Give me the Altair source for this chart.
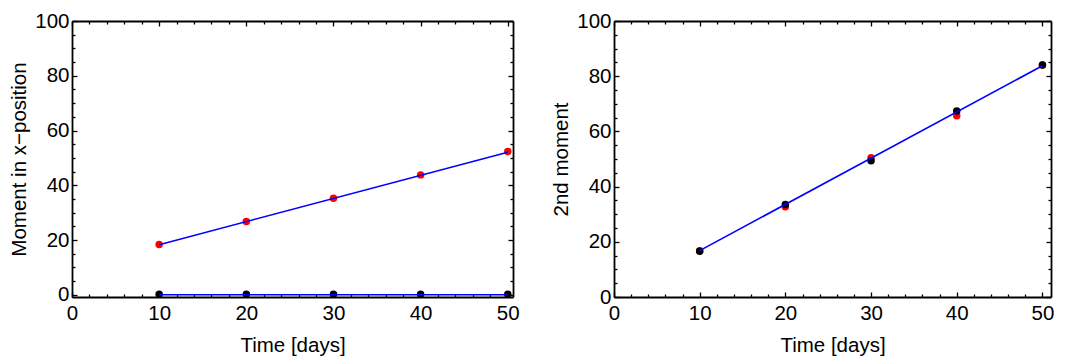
import altair as alt
import pandas as pd

# ---- data ----
days = [10, 20, 30, 40, 50]
left_red = [18.4, 26.8, 35.3, 43.8, 52.3]
left_black = [0.2, 0.2, 0.2, 0.2, 0.2]
fit_days = [10, 50]
left_fit_red = [18.3, 52.1]
left_fit_black = [0.0, 0.0]

right_red = [16.8, 32.7, 50.5, 65.7, 84.1]
right_black = [16.6, 33.5, 49.4, 67.4, 84.1]
right_fit = [16.8, 83.8]

x_major = [0, 10, 20, 30, 40, 50]
x_minor = [v for v in range(0, 51, 2) if v % 10 != 0]
y_major = [0, 20, 40, 60, 80, 100]
y_minor = [v for v in range(0, 101, 5) if v % 20 != 0]

FONT = "Liberation Sans"
FS = 20.5
DOM_W = 1.8


def panel(red, black, fit_x, fit_lines, ytitle, W, H, xdom, ydom):
    pts = pd.DataFrame({"t": days, "red": red, "black": black})
    xs = alt.Scale(domain=xdom, nice=False, zero=False)
    ys = alt.Scale(domain=ydom, nice=False, zero=False)

    main_x = alt.Axis(orient="bottom", values=x_major, ticks=False, tickSize=0,
                      domain=True, domainColor="black", domainWidth=DOM_W,
                      grid=False, labelFontSize=FS, labelFont=FONT,
                      labelColor="black", labelPadding=6, title="Time [days]",
                      titleFont=FONT, titleFontSize=FS, titleFontWeight="normal",
                      titleColor="black", titlePadding=12, labelFlush=False)
    main_y = alt.Axis(orient="left", values=y_major, ticks=False, tickSize=0,
                      domain=True, domainColor="black", domainWidth=DOM_W,
                      grid=False, labelFontSize=FS, labelFont=FONT,
                      labelColor="black", labelPadding=3, title=ytitle,
                      titleFont=FONT, titleFontSize=FS, titleFontWeight="normal",
                      titleColor="black", titlePadding=5, labelFlush=False)

    layers = []
    red_pts = alt.Chart(pts).mark_circle(size=56, color="#ff0000", opacity=1).encode(
        x=alt.X("t:Q", scale=xs, axis=main_x),
        y=alt.Y("red:Q", scale=ys, axis=main_y),
    )
    layers.append(red_pts)
    blk_pts = alt.Chart(pts).mark_circle(size=56, color="black", opacity=1).encode(
        x=alt.X("t:Q", scale=xs, axis=None),
        y=alt.Y("black:Q", scale=ys, axis=None),
    )
    layers.append(blk_pts)
    for fl in fit_lines:
        fdf = pd.DataFrame({"t": fit_x, "v": fl})
        layers.append(
            alt.Chart(fdf).mark_line(color="#0000ff", strokeWidth=1.6).encode(
                x=alt.X("t:Q", scale=xs, axis=None),
                y=alt.Y("v:Q", scale=ys, axis=None),
            )
        )

    def xt(orient, vals, size, dom=False):
        return alt.Chart(pts).mark_point(opacity=0).encode(
            x=alt.X("t:Q", scale=xs, axis=alt.Axis(
                orient=orient, offset=-H, values=vals, tickSize=size, ticks=True,
                tickColor="black", tickWidth=1.3, labels=False, domain=dom,
                domainColor="black", domainWidth=DOM_W,
                grid=False, title=None)),
            y=alt.Y("red:Q", scale=ys, axis=None),
        )

    def yt(orient, vals, size, dom=False):
        return alt.Chart(pts).mark_point(opacity=0).encode(
            x=alt.X("t:Q", scale=xs, axis=None),
            y=alt.Y("red:Q", scale=ys, axis=alt.Axis(
                orient=orient, offset=-W, values=vals, tickSize=size, ticks=True,
                tickColor="black", tickWidth=1.3, labels=False, domain=dom,
                domainColor="black", domainWidth=DOM_W,
                grid=False, title=None)),
        )

    layers += [
        xt("top", x_major, 5), xt("top", x_minor, 3),
        xt("bottom", x_major, 5, True), xt("bottom", x_minor, 3),
        yt("right", y_major, 5), yt("right", y_minor, 3),
        yt("left", y_major, 5, True), yt("left", y_minor, 3),
    ]
    return alt.layer(*layers).resolve_axis(x="independent", y="independent").properties(
        width=W, height=H
    )


left = panel(left_red, left_black, fit_days, [left_fit_red, left_fit_black],
             "Moment in x\u2212position", 441, 276, [0, 50.6], [-0.8, 100])
right = panel(right_red, right_black, fit_days, [right_fit],
              "2nd moment", 437, 276, [0, 51], [0, 100])

chart = alt.hconcat(left, right, spacing=31).properties(
    padding={"left": 1, "top": 3, "right": 0, "bottom": 0}
).configure_view(stroke=None)

chart.save("out.html", embed_options={"renderer": "svg", "actions": False})
